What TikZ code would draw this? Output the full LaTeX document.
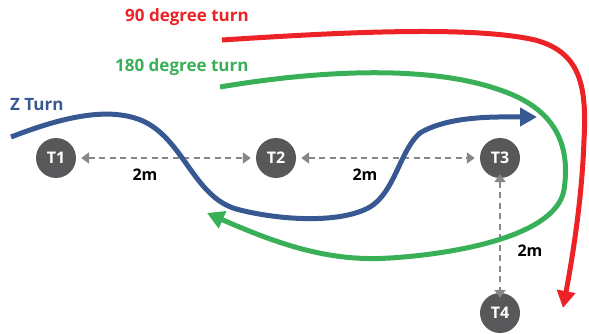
\documentclass[tikz,border=0pt]{standalone}
\usepackage{fontspec}
\setmainfont{Open Sans}
\usetikzlibrary{arrows.meta}
\definecolor{cred}{RGB}{236,34,39}
\definecolor{cgreen}{RGB}{57,176,88}
\definecolor{cblue}{RGB}{55,88,145}
\definecolor{cnode}{RGB}{88,88,90}
\definecolor{cdash}{RGB}{135,135,135}
\tikzset{
  tnode/.style={circle,fill=cnode,minimum size=40pt,inner sep=0pt,text=white,font=\bfseries\fontsize{16pt}{18pt}\selectfont},
  dimarrow/.style={cdash,line width=2pt,dash pattern=on 6pt off 4.5pt,{Triangle[length=8pt,width=11pt]}-{Triangle[length=8pt,width=11pt]}},
  dimlabel/.style={font=\bfseries\fontsize{16pt}{18pt}\selectfont},
  turn/.style={line width=5pt,-{Triangle[length=17pt,width=18pt]}},
  ttl/.style={font=\bfseries\fontsize{17pt}{20pt}\selectfont,anchor=west,inner sep=0pt}
}
\begin{document}
\begin{tikzpicture}[x=1pt,y=-1pt]
\useasboundingbox (0,0) rectangle (589,334);
% nodes
\node[tnode] (T1) at (56,158) {T1};
\node[tnode] (T2) at (276,158) {T2};
\node[tnode] (T3) at (500,158) {T3};
\node[tnode] (T4) at (500,313) {T4};
% dimension arrows
\draw[dimarrow] ([xshift=5pt]T1.east) -- ([xshift=-5pt]T2.west);
\draw[dimarrow] ([xshift=5pt]T2.east) -- ([xshift=-5pt]T3.west);
\draw[dimarrow] ([yshift=4pt]T3.south) -- ([yshift=-5pt]T4.north);
\node[dimlabel] (d1) at (145,175) {2m};
\node[dimlabel] (d2) at (365,175) {2m};
\node[dimlabel] (d3) at (530,251) {2m};
% titles
\node[ttl,text=cred] (t90) at (125,17) {90 degree turn};
\node[ttl,text=cgreen] (t180) at (115,67) {180 degree turn};
\node[ttl,text=cblue] (tz) at (10,105) {Z Turn};
% red curve
\draw[turn,cred] (222,40) .. controls (330,33) and (470,25) .. (535,40)
  .. controls (580,52) and (587,85) .. (584,140)
  .. controls (582,200) and (572,260) .. (563,308);
% green curve
\draw[turn,cgreen] (220,87) .. controls (320,70) and (430,65) .. (500,90)
  .. controls (560,110) and (570,150) .. (564,190)
  .. controls (555,240) and (440,255) .. (390,258)
  .. controls (330,262) and (280,245) .. (207,213);
% blue curve
\draw[turn,cblue] (11,137) .. controls (60,118) and (110,105) .. (145,122)
  .. controls (185,142) and (195,200) .. (240,210)
  .. controls (280,220) and (340,224) .. (370,207)
  .. controls (395,192) and (400,150) .. (420,133)
  .. controls (450,115) and (500,117) .. (537,117);
\end{tikzpicture}
\end{document}
